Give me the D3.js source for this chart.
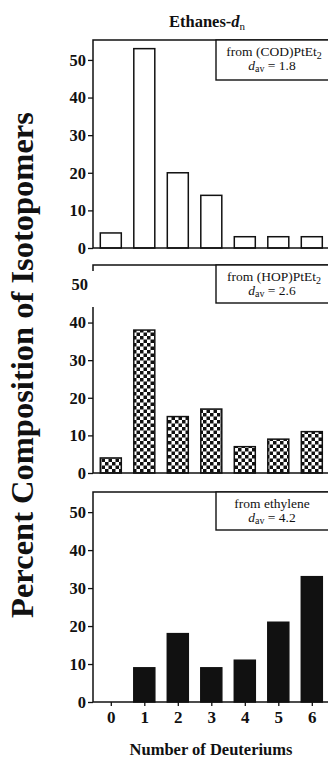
<!DOCTYPE html>
<html>
<head>
<meta charset="utf-8">
<script src="https://cdn.jsdelivr.net/npm/d3@7"></script>
<style>
  html, body { margin: 0; padding: 0; background: #fff; }
  svg { display: block; }
  text { font-family: "Liberation Serif", "DejaVu Serif", serif; fill: #111; }
</style>
</head>
<body>
<script>
// ---- data ----
const categories = [0, 1, 2, 3, 4, 5, 6];
const codValues = [4, 53, 20, 14, 3, 3, 3];
const hopValues = [4, 38, 15, 17, 7, 9, 11];
const ethyleneValues = [0, 9, 18, 9, 11, 21, 33];
const yTicks = [0, 10, 20, 30, 40, 50];
const legendLine1 = ["from (COD)PtEt", "from (HOP)PtEt", "from ethylene"];
const legendSub = ["2", "2", ""];
const legendDav = ["1.8", "2.6", "4.2"];

// ---- layout ----
const W = 328, H = 761;
const left = 93, right = 345;
const panels = [
  { values: codValues, top: 40, base: 248, fill: "#fff", legBottom: 80 },
  { values: hopValues, top: 265, base: 473, fill: "url(#checker)", legBottom: 303 },
  { values: ethyleneValues, top: 492, base: 702, fill: "#111", legBottom: 530 }
];

const svg = d3.select("body").append("svg").attr("width", W).attr("height", H);

const defs = svg.append("defs");
const pat = defs.append("pattern").attr("id", "checker")
  .attr("patternUnits", "userSpaceOnUse").attr("width", 7).attr("height", 7);
pat.append("rect").attr("width", 7).attr("height", 7).attr("fill", "#fff");
pat.append("rect").attr("width", 3.5).attr("height", 3.5).attr("fill", "#111");
pat.append("rect").attr("x", 3.5).attr("y", 3.5).attr("width", 3.5).attr("height", 3.5).attr("fill", "#111");

const x = d3.scalePoint().domain(categories).range([110.8, 311.8]);
const barW = 21;

panels.forEach((p, i) => {
  const y = d3.scaleLinear().domain([0, 55.3]).range([p.base, p.top]);
  const g = svg.append("g");

  // frame: top, left, right
  g.append("path")
    .attr("d", `M${left},${p.base}V${p.top}H${right}V${p.base}`)
    .attr("fill", "none").attr("stroke", "#111").attr("stroke-width", 1.5);

  // bars
  g.selectAll("rect.bar").data(categories.filter(c => p.values[c] > 0)).join("rect")
    .attr("class", "bar")
    .attr("x", c => x(c) - barW / 2)
    .attr("y", c => y(p.values[c]))
    .attr("width", barW)
    .attr("height", c => y(0) - y(p.values[c]))
    .attr("fill", p.fill)
    .attr("stroke", "#111").attr("stroke-width", 1.5);

  // y axis (panel 2's "50" is drawn separately over the pasted strip)
  const ticks = i === 1 ? yTicks.filter(t => t < 50) : yTicks;
  const ax = g.append("g").attr("transform", `translate(${left},0)`)
    .call(d3.axisLeft(y).tickValues(ticks).tickSize(5).tickSizeOuter(0).tickPadding(2));
  ax.select(".domain").remove();
  ax.selectAll("line").attr("stroke", "#111").attr("stroke-width", 1.3);
  ax.selectAll("text")
    .style("font-family", "'Liberation Serif', serif")
    .style("font-weight", "bold").style("font-size", "16.5px").attr("fill", "#111");

  // baseline
  g.append("line").attr("x1", left).attr("x2", right)
    .attr("y1", y(0)).attr("y2", y(0))
    .attr("stroke", "#111").attr("stroke-width", 1.5);

  // legend box
  g.append("rect").attr("x", 216).attr("y", p.top)
    .attr("width", right - 216).attr("height", p.legBottom - p.top)
    .attr("fill", "#fff").attr("stroke", "#111").attr("stroke-width", 1.4);
  const cx = 272;
  const t1 = g.append("text").attr("x", i === 2 ? cx : 274).attr("y", p.top + 15.5)
    .attr("text-anchor", "middle").style("font-size", "13.5px");
  t1.append("tspan").text(legendLine1[i]);
  if (legendSub[i]) t1.append("tspan").attr("dy", 3).style("font-size", "10px").text(legendSub[i]);
  const t2 = g.append("text").attr("x", cx).attr("y", p.top + 29.5)
    .attr("text-anchor", "middle").style("font-size", "13.5px");
  t2.append("tspan").style("font-style", "italic").text("d");
  t2.append("tspan").attr("dy", 2.5).style("font-size", "10px").text("av");
  t2.append("tspan").attr("dy", -2.5).text(" = " + legendDav[i]);

  if (i === 2) {
    const xa = g.append("g").attr("transform", `translate(0,${p.base})`)
      .call(d3.axisBottom(x).tickSize(4).tickPadding(5));
    xa.select(".domain").remove();
    xa.selectAll("line").attr("stroke", "#111").attr("stroke-width", 1.3);
    xa.selectAll("text")
      .style("font-family", "'Liberation Serif', serif")
      .style("font-weight", "bold").style("font-size", "17px").attr("fill", "#111");
  }
  p.y = y;
});

// white strip artifact over panel 2 top-left
svg.append("rect").attr("x", 40).attr("y", 271).attr("width", 175).attr("height", 36).attr("fill", "#fff");
svg.append("text").attr("x", 88).attr("y", panels[1].y(50)).attr("dy", "0.32em")
  .attr("text-anchor", "end").style("font-weight", "bold").style("font-size", "16.5px").text("50");

// title
const title = svg.append("text").attr("x", 207).attr("y", 27).attr("text-anchor", "middle")
  .style("font-weight", "bold").style("font-size", "16.5px");
title.append("tspan").text("Ethanes-");
title.append("tspan").style("font-style", "italic").text("d");
title.append("tspan").attr("dy", 3).style("font-size", "11px").style("font-weight", "normal").text("n");

// y label
svg.append("text")
  .attr("transform", "translate(33,365) rotate(-90)")
  .attr("text-anchor", "middle")
  .style("font-size", "32.5px").style("font-weight", "bold")
  .text("Percent Composition of Isotopomers");

// x label
svg.append("text").attr("x", 211).attr("y", 755).attr("text-anchor", "middle")
  .style("font-weight", "bold").style("font-size", "16.5px")
  .text("Number of Deuteriums");
</script>
</body>
</html>
